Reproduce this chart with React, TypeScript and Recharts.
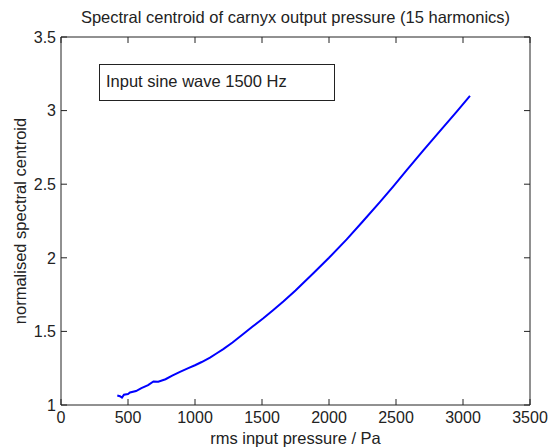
import { LineChart, Line, XAxis, YAxis } from 'recharts';

// rms input pressure (Pa)
const pressure = [
  420, 440, 455, 470, 500, 515, 560, 600, 650, 690, 726, 780, 830, 888, 950,
  1000, 1050, 1112, 1160, 1211, 1280, 1360, 1430, 1510, 1580, 1659, 1750,
  1883, 2000, 2132, 2250, 2381, 2480, 2580, 2704, 2850, 2950, 3052,
];
// normalised spectral centroid
const centroid = [
  1.065, 1.06, 1.05, 1.07, 1.075, 1.085, 1.095, 1.115, 1.135, 1.16, 1.158, 1.175, 1.2, 1.225, 1.25,
  1.27, 1.292, 1.322, 1.35, 1.38, 1.425, 1.482, 1.533, 1.589, 1.642, 1.703, 1.778,
  1.895, 2.0, 2.125, 2.245, 2.38, 2.485, 2.595, 2.73, 2.885, 2.99, 3.1,
];
const xTicks = [0, 500, 1000, 1500, 2000, 2500, 3000, 3500];
const yTicks = [1, 1.5, 2, 2.5, 3, 3.5];

const title = 'Spectral centroid of carnyx output pressure (15 harmonics)';
const xLabel = 'rms input pressure / Pa';
const yLabel = 'normalised spectral centroid';
const note = 'Input sine wave 1500 Hz';

const data = pressure.map((p, i) => ({ p, c: centroid[i] }));

const font = '"Liberation Sans", Arial, sans-serif';
const axisColor = '#222';
const TICK = 6;

// ticks point inwards, like the MATLAB axes box
const BottomTick = ({ x, y, payload }: any) => (
  <g>
    <line x1={x} y1={y} x2={x} y2={y - TICK} stroke={axisColor} />
    <text x={x} y={y + 6} dy="0.72em" textAnchor="middle" fontSize={16} fill="#222" fontFamily={font}>
      {payload.value}
    </text>
  </g>
);

const LeftTick = ({ x, y, payload }: any) => (
  <g>
    <line x1={x} y1={y} x2={x + TICK} y2={y} stroke={axisColor} />
    <text x={x - 5} y={y} dy="0.36em" textAnchor="end" fontSize={16} fill="#222" fontFamily={font}>
      {payload.value}
    </text>
  </g>
);

const TopTick = ({ x, y }: any) => <line x1={x} y1={y} x2={x} y2={y + TICK} stroke={axisColor} />;

const RightTick = ({ x, y }: any) => <line x1={x} y1={y} x2={x - TICK} y2={y} stroke={axisColor} />;

const labelStyle = { fontSize: 16.5, color: '#222', whiteSpace: 'nowrap' as const };

export default function App() {
  return (
    <div style={{ position: 'absolute', left: 0, top: 0, width: 549, height: 448, background: '#fff', fontFamily: font }}>
      <LineChart width={549} height={448} data={data} margin={{ top: 36, right: 18, bottom: 13, left: 11 }}>
        <XAxis
          dataKey="p"
          type="number"
          domain={[0, 3500]}
          ticks={xTicks}
          height={30}
          tickSize={0}
          tickMargin={0}
          tickLine={false}
          stroke={axisColor}
          tick={<BottomTick />}
          interval={0}
          allowDataOverflow
        />
        <XAxis
          xAxisId="top"
          orientation="top"
          dataKey="p"
          type="number"
          domain={[0, 3500]}
          ticks={xTicks}
          height={1}
          tickSize={0}
          tickMargin={0}
          tickLine={false}
          tick={<TopTick />}
          stroke={axisColor}
          interval={0}
          allowDataOverflow
        />
        <YAxis
          type="number"
          domain={[1, 3.5]}
          ticks={yTicks}
          width={50}
          tickSize={0}
          tickMargin={0}
          tickLine={false}
          stroke={axisColor}
          tick={<LeftTick />}
          interval={0}
          allowDataOverflow
        />
        <YAxis
          yAxisId="right"
          orientation="right"
          type="number"
          domain={[1, 3.5]}
          ticks={yTicks}
          width={1}
          tickSize={0}
          tickMargin={0}
          tickLine={false}
          tick={<RightTick />}
          stroke={axisColor}
          interval={0}
          allowDataOverflow
        />
        <Line
          dataKey="c"
          stroke="#0000ff"
          strokeWidth={2}
          dot={false}
          type="linear"
          isAnimationActive={false}
        />
      </LineChart>
      <div style={{ ...labelStyle, position: 'absolute', left: 61, width: 469, top: 8, textAlign: 'center' }}>{title}</div>
      <div style={{ ...labelStyle, position: 'absolute', left: 61, width: 469, top: 429, textAlign: 'center' }}>{xLabel}</div>
      <div
        style={{
          ...labelStyle,
          position: 'absolute',
          left: 20,
          top: 221,
          transform: 'translate(-50%, -50%) rotate(-90deg)',
        }}
      >
        {yLabel}
      </div>
      <div
        style={{
          ...labelStyle,
          position: 'absolute',
          left: 99,
          top: 64,
          width: 234,
          height: 35,
          border: '1px solid #222',
          lineHeight: '33px',
        }}
      >
        <span style={{ marginLeft: 6 }}>{note}</span>
      </div>
    </div>
  );
}
